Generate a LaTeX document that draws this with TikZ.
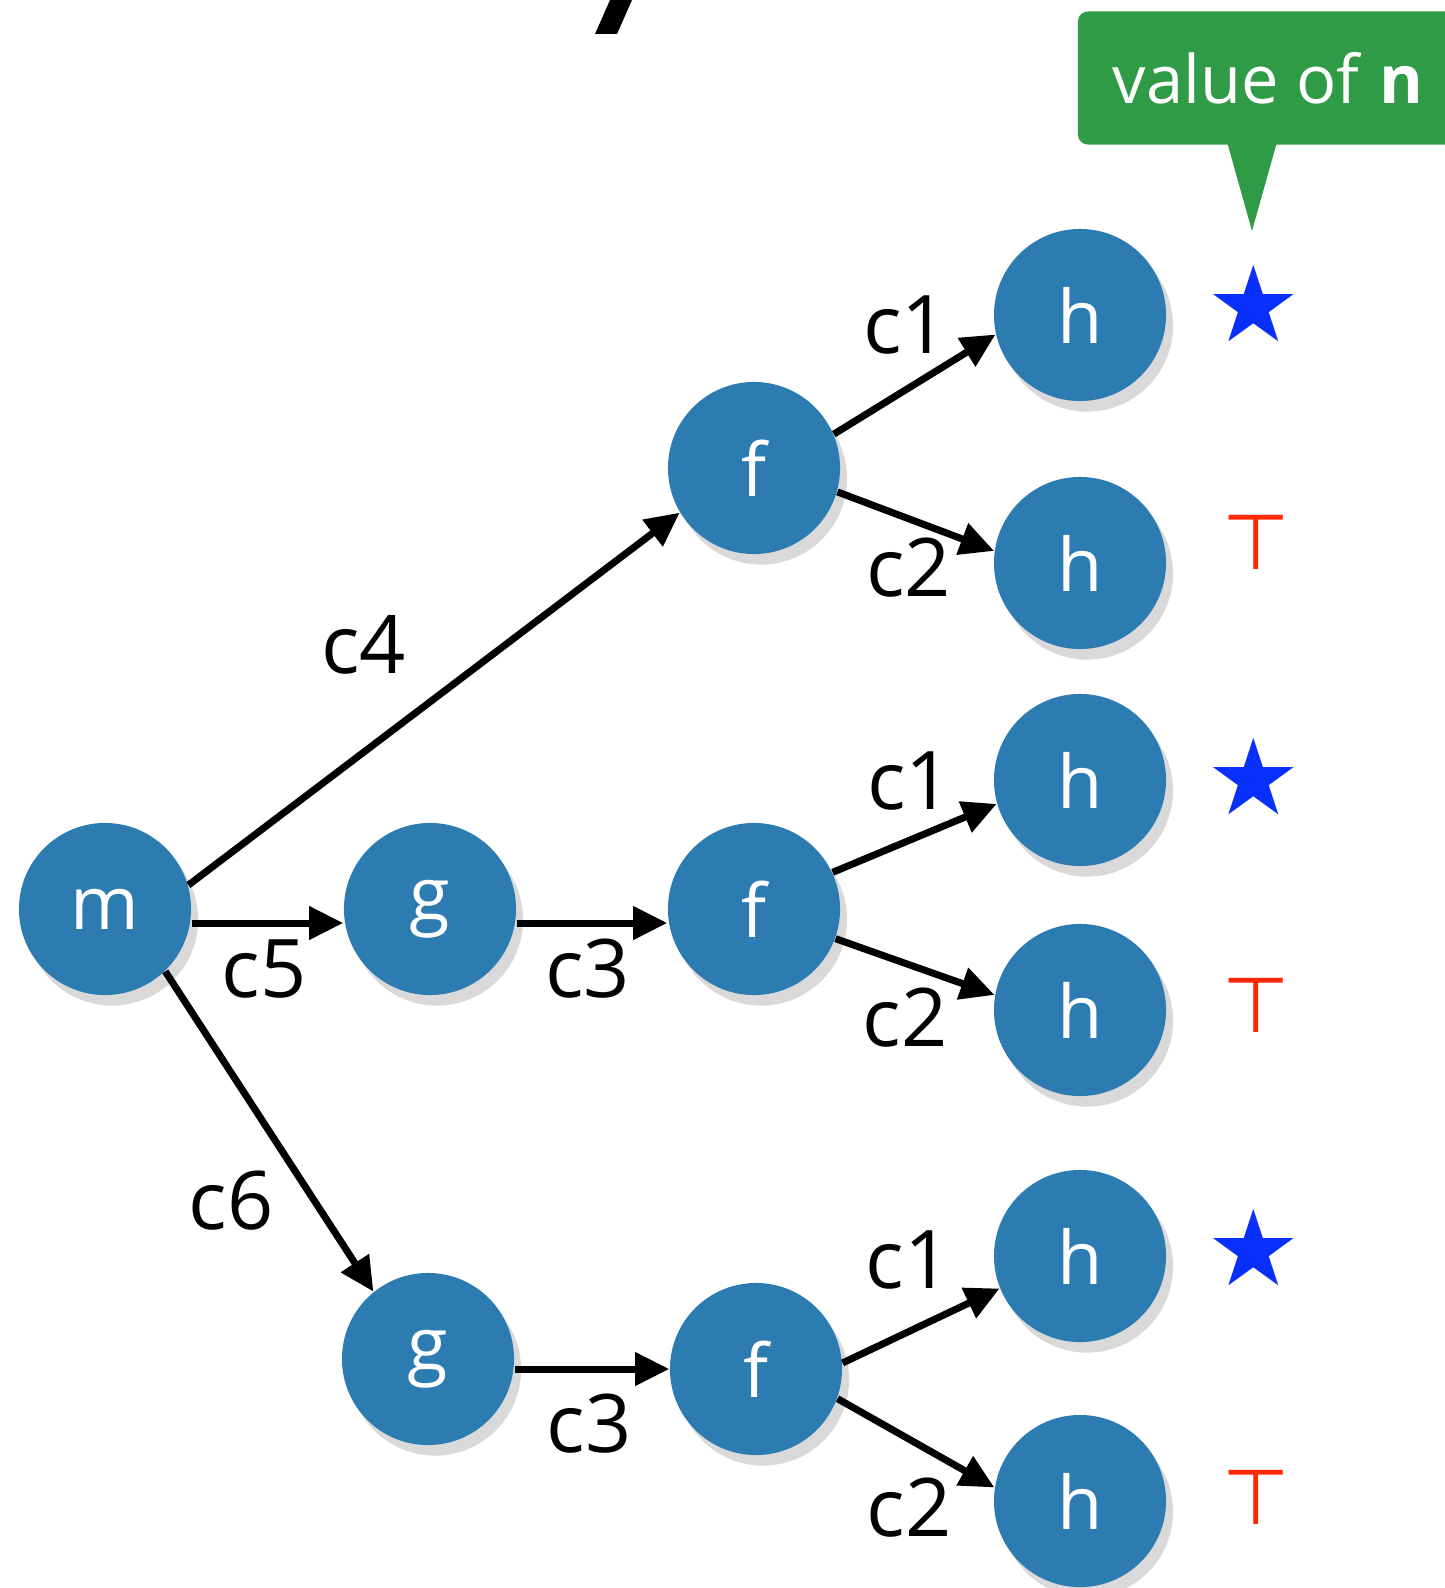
\documentclass[tikz,border=0pt]{standalone}
\usepackage{fontspec}
\setmainfont{Open Sans}
\newfontfamily\symfont{DejaVu Sans}
\usetikzlibrary{positioning,arrows.meta,shadows}

\definecolor{nodeblue}{RGB}{44,124,178}
\definecolor{notegreen}{RGB}{48,155,70}
\definecolor{starblue}{RGB}{8,48,250}
\definecolor{topred}{RGB}{255,40,0}

\tikzset{
  fn/.style={circle, fill=nodeblue, minimum size=1.72cm, inner sep=0pt, text=white,
    font=\fontsize{21}{21}\selectfont,
    drop shadow={shadow xshift=2pt, shadow yshift=-3pt, opacity=.3}},
  call/.style={-{Triangle[length=0.34cm,width=0.32cm]}, line width=2pt},
  lbl/.style={font=\fontsize{23}{23}\selectfont, inner sep=0pt, anchor=center},
  starval/.style={text=starblue, font=\symfont\fontsize{30}{30}\selectfont},
  topval/.style={text=topred, font=\symfont\fontsize{22}{22}\selectfont},
  callbox/.style={fill=notegreen, rounded corners=0.1cm, minimum width=3.8cm,
    minimum height=1.33cm, text=white, font=\fontsize{19}{19}\selectfont}
}

\begin{document}
\begin{tikzpicture}[x=0.01cm, y=-0.01cm]
  \useasboundingbox (0,0) rectangle (1444,1588);

  % piece of the title
  \fill (595,34) -- (617,34) -- (632,0) -- (610,0) -- cycle;

  % call tree
  \node[fn] (m) at (105,909) {m};
  \node[fn] (g1) at (430,909) {g};
  \node[fn] (g2) at (428,1359) {g};
  \node[fn] (f1) at (754,468) {f};
  \node[fn] (f2) at (754,909) {f};
  \node[fn] (f3) at (756,1369) {f};
  \node[fn] (h1) at (1080,315) {h};
  \node[fn] (h2) at (1080,563) {h};
  \node[fn] (h3) at (1080,780) {h};
  \node[fn] (h4) at (1080,1010) {h};
  \node[fn] (h5) at (1080,1256) {h};
  \node[fn] (h6) at (1080,1501) {h};

  \path[call]
    (m.16) edge node[lbl, pos=.45, shift={(-46,-73)}] {c4} (f1.211)
    ([yshift=-0.14cm]m.east) edge node[lbl, pos=.47, shift={(1,46)}] {c5} ([yshift=-0.14cm]g1.west)
    (m.314) edge node[lbl, pos=.6, shift={(-59,37)}] {c6} (g2.129)
    ([yshift=-0.14cm]g1.east) edge node[lbl, pos=.47, shift={(0,46)}] {c3} ([yshift=-0.14cm]f2.west)
    (g2.east |- f3) edge node[lbl, pos=.47, shift={(2,55)}] {c3} (f3.west)
    (f1.23) edge node[lbl, pos=.5, shift={(-9,-59)}] {c1} (h1.193)
    (f1.-16) edge node[lbl, pos=.5, shift={(-7,46)}] {c2} (h2.172)
    (f2.25) edge node[lbl, pos=.5, shift={(-5,-57)}] {c1} (h3.196)
    (f2.-20) edge node[lbl, pos=.5, shift={(-10,51)}] {c2} (h4.170)
    (f3.4) edge node[lbl, pos=.5, shift={(-13,-66)}] {c1} (h5.202)
    (f3.-20) edge node[lbl, pos=.5, shift={(-7,65)}] {c2} (h6.171);

  % values of n
  \node[starval] (v1) at (1254,304) {★};
  \node[topval] (v2) at (1256,542) {⊤};
  \node[starval] (v3) at (1254,777) {★};
  \node[topval] (v4) at (1256,1005) {⊤};
  \node[starval] (v5) at (1254,1248) {★};
  \node[topval] (v6) at (1256,1497) {⊤};

  % callout
  \node[callbox] (note) at (1268,78) {value of \textbf{n}};
  \coordinate (tip) at (1252,231);
  \fill[notegreen] ([xshift=-0.25cm, yshift=1pt]tip |- note.south) -- (tip)
    -- ([xshift=0.25cm, yshift=1pt]tip |- note.south) -- cycle;
\end{tikzpicture}
\end{document}
